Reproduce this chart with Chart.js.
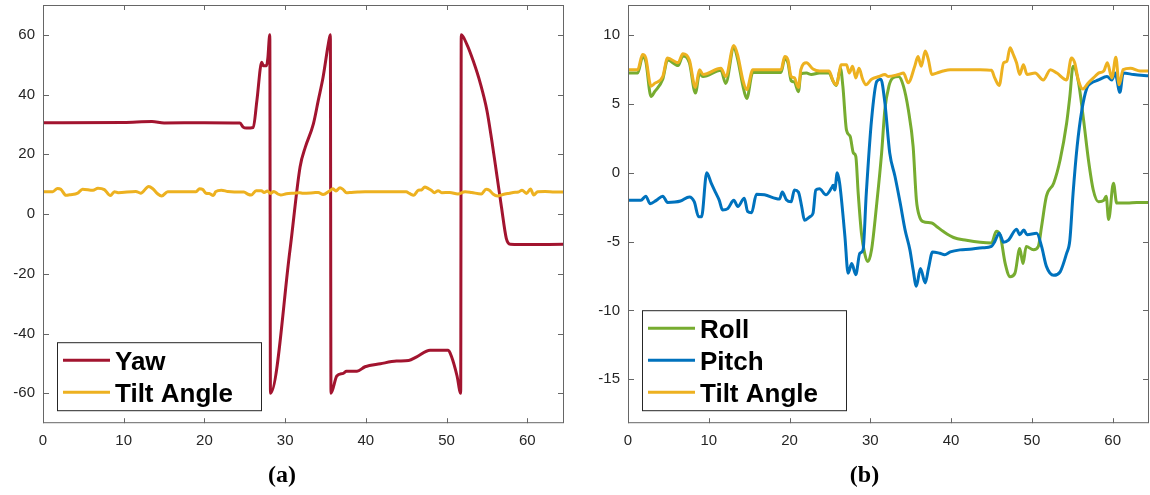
<!DOCTYPE html>
<html>
<head>
<meta charset="utf-8">
<script src="https://cdn.jsdelivr.net/npm/chart.js@4.4.1/dist/chart.umd.min.js"></script>
<style>
    html, body { margin: 0; padding: 0; background: #fff; }
    #wrap { position: relative; width: 1150px; height: 495px; overflow: hidden; }
    #chart-a { position: absolute; left: 0; top: 0; }
    #chart-b { position: absolute; left: 580px; top: 0; }
</style>
</head>
<body>
<div id="wrap">
    <canvas id="chart-a" width="566" height="495"></canvas>
    <canvas id="chart-b" width="570" height="495"></canvas>
</div>
<script>
const xTicks = [0, 10, 20, 30, 40, 50, 60];
const yTicksA = [-60, -40, -20, 0, 20, 40, 60];
const yTicksB = [-15, -10, -5, 0, 5, 10];

// time (s) / angle (deg)
const yawT = [0, 10, 13.5, 15, 20, 24.4, 24.8, 25.2, 26.05, 26.5,
    27.1, 27.3, 27.7, 27.85, 28.1, 28.18, 30.6, 31.85, 32.5, 33.5,
    34.1, 34.7, 35.35, 35.6, 35.68, 36.4, 37.2, 37.6, 38.9, 39.9,
    41.8, 43.8, 45.3, 46.3, 47.95, 50.2, 50.6, 51.3, 51.75, 51.82,
    52.5, 53.3, 54.2, 55.0, 55.6, 56.2, 56.8, 57.4, 57.9, 59.1, 64.5];
const yawV = [30.6, 30.7, 31.0, 30.5, 30.6, 30.5, 29.1, 28.8, 29.0, 38.0,
    50.8, 49.7, 49.7, 52, 60, -60, -12, 15.8, 22.4, 30.2,
    38, 45.8, 56.9, 60, -60, -54.2, -53.3, -52.6, -52.6, -51.1,
    -50.1, -49.2, -49.0, -47.8, -45.6, -45.6, -47.6, -54.2, -60, 60,
    56.9, 51.3, 43.6, 34.7, 24.7, 13.6, 2.4, -8.1, -10.1, -10.2, -10.1];

const tiltT = [0, 1.2, 1.8, 2.2, 2.85, 3.3, 4.3, 4.9, 6.2, 6.8,
    7.6, 8.35, 8.85, 9.3, 11.5, 12.1, 13.1, 13.6, 14.2, 14.7,
    15.45, 16.9, 18.95, 19.4, 19.8, 20.2, 20.6, 21.1, 21.4, 22.1,
    22.9, 23.7, 24.9, 25.4, 25.8, 26.4, 27.05, 27.4, 27.8, 28.2,
    28.6, 29.05, 29.45, 30.15, 31.1, 31.8, 32.2, 33.5, 34.1, 34.7,
    35.5, 35.9, 36.3, 36.8, 37.2, 37.6, 38.2, 39.0, 39.9, 43.6,
    45.0, 45.4, 45.95, 46.5, 46.9, 47.3, 47.7, 48.1, 48.5, 48.95,
    49.4, 50.4, 51.4, 52.3, 53.1, 54.3, 54.9, 55.3, 55.75, 56.3,
    57.0, 57.8, 58.25, 58.9, 59.35, 59.9, 60.4, 60.8, 61.3, 62.2,
    63.4, 64.5];
const tiltV = [7.5, 7.5, 8.6, 8.35, 6.3, 6.5, 7.0, 8.35, 8.0, 8.65,
    8.2, 6.2, 7.5, 7.15, 7.6, 7.0, 9.25, 8.5, 6.8, 6.05,
    7.5, 7.5, 7.5, 8.45, 8.2, 7.0, 6.9, 6.2, 7.5, 8.0,
    7.55, 7.4, 7.4, 6.65, 6.4, 7.85, 7.85, 7.25, 7.75, 6.9,
    7.6, 6.8, 6.4, 6.8, 7.0, 7.15, 7.0, 7.15, 7.25, 6.55,
    7.75, 8.45, 7.75, 8.85, 8.2, 7.15, 7.25, 7.4, 7.5, 7.5,
    7.45, 6.9, 6.35, 8.0, 8.1, 9.1, 8.6, 8.0, 7.15, 7.85,
    7.15, 7.25, 6.75, 7.5, 7.25, 6.75, 8.35, 8.0, 6.75, 6.1,
    6.55, 7.0, 7.25, 7.4, 8.0, 6.9, 8.4, 6.4, 7.5, 7.6,
    7.4, 7.4];

const rollT = [0, 1.2, 1.8, 2.2, 2.85, 3.3, 4.3, 4.9, 6.2, 6.8,
    7.6, 8.35, 8.85, 9.3, 11.5, 12.1, 13.1, 13.6, 14.2, 14.7,
    15.45, 16.9, 18.95, 19.4, 19.8, 20.2, 20.6, 21.1, 21.4, 22.1,
    22.7, 23.7, 24.9, 25.4, 25.8, 26.3, 26.6, 27.05, 27.5, 27.9,
    28.2, 28.5, 28.9, 29.3, 29.7, 30.15, 30.8, 31.4, 31.8, 32.3,
    32.8, 33.5, 34.1, 34.7, 35.3, 35.7, 36.1, 36.55, 37.6, 38.2,
    39.0, 40.3, 41.9, 43.6, 45.0, 45.6, 46.1, 46.7, 47.3, 47.9,
    48.5, 48.9, 49.3, 50.2, 50.8, 51.2, 51.8, 52.7, 53.5, 54.3,
    54.7, 55.1, 55.75, 56.4, 57.0, 57.6, 58.25, 58.9, 59.2, 59.5,
    60.1, 60.5, 61.8, 63.0, 64.5];
const rollV = [7.25, 7.25, 8.4, 8.1, 5.55, 5.9, 6.8, 8.2, 7.8, 8.5,
    8.0, 5.8, 7.2, 7.0, 7.45, 6.5, 9.1, 8.2, 6.4, 5.4,
    7.3, 7.3, 7.3, 8.3, 8.0, 6.7, 6.6, 5.9, 7.2, 7.25,
    7.15, 7.25, 7.25, 6.65, 6.35, 7.6, 6.3, 3.1, 2.65, 1.45,
    1.2, -1.5, -4.4, -5.85, -6.45, -5.6, -2.2, 1.45, 4.6, 6.3,
    6.9, 7.0, 6.3, 4.6, 1.9, -1.95, -3.2, -3.55, -3.65, -3.9,
    -4.25, -4.7, -4.9, -5.05, -5.1, -4.25, -4.6, -6.6, -7.55, -7.3,
    -5.5, -6.6, -5.35, -5.6, -5.35, -3.9, -1.7, -0.75, 0.95, 3.6,
    5.55, 7.75, 6.65, 3.85, 0.95, -1.25, -2.1, -2.0, -1.7, -3.4,
    -0.75, -2.2, -2.2, -2.15, -2.15];

const pitchT = [0, 1.6, 2.2, 2.75, 3.5, 4.3, 4.9, 6.5, 7.6, 8.2,
    8.75, 9.1, 9.75, 10.3, 10.9, 11.3, 11.7, 12.35, 13.1, 13.6,
    14.4, 14.8, 15.3, 15.9, 16.9, 18.75, 19.1, 19.6, 20.2, 20.6,
    21.1, 21.5, 21.85, 22.5, 22.9, 23.25, 23.7, 24.5, 25.2, 25.4,
    25.6, 25.9, 26.2, 26.85, 27.25, 27.7, 28.2, 28.7, 29.1, 29.5,
    30.15, 30.8, 31.3, 31.8, 32.4, 33.05, 33.7, 34.3, 34.9, 35.3,
    35.7, 36.2, 36.8, 37.2, 37.7, 38.6, 39.2, 39.9, 41.1, 42.3,
    43.9, 45.0, 45.4, 45.95, 46.5, 47.1, 48.1, 48.5, 49.0, 49.4,
    50.6, 51.2, 51.8, 52.7, 53.5, 54.3, 54.7, 55.1, 55.6, 56.2,
    56.8, 57.3, 58.25, 59.3, 59.9, 60.3, 60.9, 61.3, 62.6, 64.5];
const pitchV = [-2.0, -2.0, -1.7, -2.25, -2.0, -1.7, -2.15, -2.05, -1.75, -2.1,
    -3.2, -3.2, 0.0, -0.75, -1.5, -2.0, -2.7, -2.6, -2.0, -2.45,
    -1.85, -2.8, -2.9, -1.55, -1.6, -1.9, -1.4, -1.95, -2.1, -1.25,
    -1.4, -2.45, -3.45, -3.2, -2.95, -1.25, -1.15, -1.6, -1.1, -0.9,
    -1.25, 0.0, -0.75, -4.6, -7.3, -6.6, -7.4, -5.85, -5.6, -1.5,
    3.85, 6.65, 6.8, 5.1, 1.45, -0.25, -2.2, -4.15, -5.6, -7.05,
    -8.25, -6.95, -8.0, -6.95, -5.75, -5.85, -5.95, -5.75, -5.6, -5.55,
    -5.45, -5.35, -5.0, -4.4, -5.05, -4.9, -4.1, -4.5, -4.15, -4.5,
    -4.4, -5.35, -6.8, -7.45, -7.2, -5.85, -4.9, -1.5, 1.9, 4.6,
    6.15, 6.5, 6.75, 7.0, 6.75, 7.25, 5.85, 7.25, 7.15, 7.05];

function pts(t, v) {
    return t.map((x, i) => ({ x: x, y: v[i] }));
}

function series(label, t, v, color, order) {
    return {
        label: label,
        data: pts(t, v),
        borderColor: color,
        borderWidth: 3,
        pointRadius: 0,
        fill: false,
        cubicInterpolationMode: "monotone",
        order: order
    };
}

// MATLAB-ish box: frame, inward ticks, boxed legend in lower left
const matlabBox = {
    id: "matlabBox",
    afterDraw(chart) {
        const { ctx, chartArea: a, scales } = chart;
        ctx.save();
        ctx.strokeStyle = "#666";
        ctx.lineWidth = 1;
        ctx.strokeRect(a.left + 0.5, a.top + 0.5, a.width - 1, a.height - 1);
        ctx.beginPath();
        for (const t of scales.x.ticks) {
            const px = Math.round(scales.x.getPixelForValue(t.value)) + 0.5;
            ctx.moveTo(px, a.bottom); ctx.lineTo(px, a.bottom - 5);
            ctx.moveTo(px, a.top); ctx.lineTo(px, a.top + 5);
        }
        for (const t of scales.y.ticks) {
            const py = Math.round(scales.y.getPixelForValue(t.value)) + 0.5;
            ctx.moveTo(a.left, py); ctx.lineTo(a.left + 6, py);
            ctx.moveTo(a.right, py); ctx.lineTo(a.right - 6, py);
        }
        ctx.stroke();

        const sets = chart.data.datasets;
        const h = 36 + 32 * (sets.length - 1);
        const x0 = a.left + 14;
        const y0 = a.bottom - 13 - h;
        ctx.fillStyle = "#fff";
        ctx.fillRect(x0, y0, 204, h);
        ctx.strokeStyle = "#262626";
        ctx.strokeRect(x0 + 0.5, y0 + 0.5, 204, h);
        ctx.font = "bold 26px 'Liberation Sans', Arial, sans-serif";
        ctx.textBaseline = "alphabetic";
        sets.forEach((ds, i) => {
            const y = y0 + 18 + 32 * i;
            ctx.strokeStyle = ds.borderColor;
            ctx.lineWidth = 3;
            ctx.beginPath();
            ctx.moveTo(x0 + 6, y);
            ctx.lineTo(x0 + 53, y);
            ctx.stroke();
            ctx.fillStyle = "#000";
            ctx.fillText(ds.label, x0 + 58, y + 9.5);
        });
        ctx.restore();
    }
};

function makeChart(id, datasets, xMax, yMin, yMax, yTicks, yWidth, padRight, caption) {
    const tickFont = { family: "'Liberation Sans', Arial, sans-serif", size: 15 };
    return new Chart(document.getElementById(id), {
        type: "line",
        data: { datasets: datasets },
        options: {
            responsive: false,
            animation: false,
            layout: { padding: { top: 5, right: padRight, bottom: 0, left: 0 } },
            scales: {
                x: {
                    type: "linear",
                    min: 0,
                    max: xMax,
                    afterBuildTicks: s => { s.ticks = xTicks.map(v => ({ value: v })); },
                    afterFit: s => { s.height = 38; s.paddingLeft = 0; s.paddingRight = 0; },
                    grid: { display: false, drawTicks: false },
                    border: { display: false },
                    ticks: { color: "#262626", font: tickFont, padding: 9, maxRotation: 0, autoSkip: false, callback: v => String(v) }
                },
                y: {
                    type: "linear",
                    min: yMin,
                    max: yMax,
                    afterBuildTicks: s => { s.ticks = yTicks.map(v => ({ value: v })); },
                    afterFit: s => { s.width = yWidth; s.paddingTop = 0; s.paddingBottom = 0; },
                    grid: { display: false, drawTicks: false },
                    border: { display: false },
                    ticks: { color: "#262626", font: tickFont, padding: 8, autoSkip: false, callback: v => String(v) }
                }
            },
            plugins: {
                legend: { display: false },
                tooltip: { enabled: false },
                title: {
                    display: true,
                    position: "bottom",
                    text: caption,
                    color: "#000",
                    font: { family: "'Liberation Serif', 'Times New Roman', serif", size: 24, weight: "bold" },
                    padding: { top: 0, bottom: 5 }
                }
            }
        },
        plugins: [matlabBox]
    });
}

makeChart("chart-a", [
    series("Yaw", yawT, yawV, "#A2142F", 2),
    series("Tilt Angle", tiltT, tiltV, "#EDB120", 1)
], 64.55, -70, 70, yTicksA, 43, 2, "(a)");

makeChart("chart-b", [
    series("Roll", rollT, rollV, "#77AC30", 3),
    series("Pitch", pitchT, pitchV, "#0072BD", 2),
    series("Tilt Angle", tiltT, tiltV, "#EDB120", 1)
], 64.5, -18.2, 12.2, yTicksB, 48, 1, "(b)");
</script>
</body>
</html>
